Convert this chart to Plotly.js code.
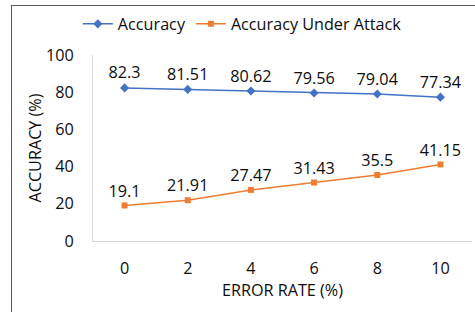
<!DOCTYPE html>
<html><head><meta charset="utf-8">
<script src="https://cdn.plot.ly/plotly-3.0.1.min.js"></script>
<style>
html,body{margin:0;padding:0;background:#fff;}
#chart{width:475px;height:312px;position:absolute;left:0;top:0;}
#frame{position:absolute;left:11px;top:5px;width:470px;height:320px;border-left:1px solid #595959;border-top:1px solid #595959;pointer-events:none;}
</style></head>
<body>
<div id="chart"></div>
<div id="frame"></div>
<script>
const errorRates = ['0','2','4','6','8','10'];
const accuracy = [82.3, 81.51, 80.62, 79.56, 79.04, 77.34];
const accuracyUnderAttack = [19.1, 21.91, 27.47, 31.43, 35.5, 41.15];
const yTicks = [0, 20, 40, 60, 80, 100];

const FS = 16.2;
const font = {family: 'Open Sans, sans-serif', size: FS, color: '#0d0d0d'};

const traces = [
  {x: errorRates, y: accuracy, name: 'Accuracy', type: 'scatter', mode: 'lines+markers+text',
   text: accuracy.map(String), textposition: 'top center', textfont: font,
   line: {color: '#4472C4', width: 1.5}, marker: {symbol: 'diamond', size: 7, color: '#4472C4'}, cliponaxis: false},
  {x: errorRates, y: accuracyUnderAttack, name: 'Accuracy Under Attack', type: 'scatter', mode: 'lines+markers+text',
   text: accuracyUnderAttack.map(String), textposition: 'top center', textfont: font,
   line: {color: '#ED7D31', width: 1.5}, marker: {symbol: 'square', size: 6, color: '#ED7D31'}, cliponaxis: false}
];

const layout = {
  width: 475, height: 312,
  margin: {l: 93, r: 3, t: 55, b: 71},
  paper_bgcolor: '#fff', plot_bgcolor: '#fff',
  font: font,
  showlegend: true,
  legend: {orientation: 'h', x: -0.04, xanchor: 'left', y: 1.165, yanchor: 'middle', font: font, itemwidth: 30, tracegroupgap: 0},
  xaxis: {type: 'category', range: [-0.5, 5.5], showgrid: false, zeroline: false,
    showline: true, linecolor: '#d9d9d9', linewidth: 1,
    ticks: 'outside', ticklen: 13, tickcolor: 'rgba(0,0,0,0)',
    title: {text: 'ERROR RATE (%)', font: font, standoff: 6}},
  yaxis: {range: [0, 100], tickvals: yTicks, showgrid: false, zeroline: false,
    showline: true, linecolor: '#d9d9d9', linewidth: 1,
    ticks: 'outside', ticklen: 15, tickcolor: 'rgba(0,0,0,0)',
    title: {text: 'ACCURACY (%)', font: font, standoff: 0}}
};

Plotly.newPlot('chart', traces, layout, {displayModeBar: false, staticPlot: true});
</script>
</body></html>
